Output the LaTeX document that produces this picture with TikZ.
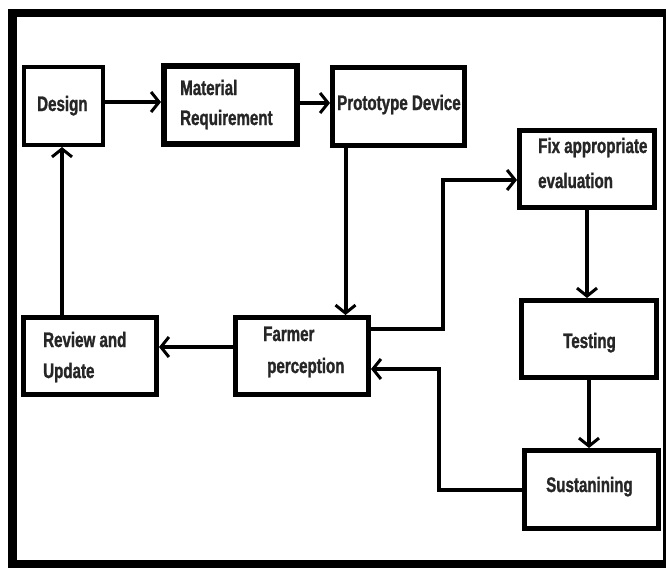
\documentclass[tikz,border=0pt]{standalone}
\usepackage{fontspec}
\newfontfamily\lbl{Liberation Sans}[FakeStretch=0.72,FakeBold=1.2]
\usetikzlibrary{arrows.meta}
\begin{document}
\begin{tikzpicture}[x=1pt,y=-1pt,
  box/.style={draw=black,line width=5pt,rectangle,inner sep=0pt,fill=white},
  lab/.style={anchor=base west,inner sep=0pt,font=\lbl\bfseries\fontsize{21}{21}\selectfont,text=black!85},
  conn/.style={draw=black,line width=4pt,-{Straight Barb[length=8pt,width=20pt,line width=3pt]}},
  wire/.style={draw=black,line width=4pt}]
\useasboundingbox (0,0) rectangle (667,568);
\fill[white] (0,0) rectangle (667,568);
% frame
\fill[black] (8,9) rectangle (17,568);
\fill[black] (8,9) rectangle (666,17);
\fill[black] (663,9) rectangle (666,568);
\fill[black] (8,560) rectangle (666,568);
% boxes
\node[box,line width=4pt,minimum width=79pt,minimum height=78pt] (design) at (63.5,106) {};
\node[box,line width=6pt,minimum width=133pt,minimum height=78pt] (material) at (230.5,105) {};
\node[box,minimum width=132pt,minimum height=78pt] (prototype) at (398.5,106.5) {};
\node[box,minimum width=135pt,minimum height=77pt] (fix) at (587,169) {};
\node[box,minimum width=135pt,minimum height=77pt] (testing) at (589,339) {};
\node[box,minimum width=134pt,minimum height=78pt] (sustaining) at (591.5,489.5) {};
\node[box,minimum width=133pt,minimum height=77pt] (review) at (90,356) {};
\node[box,minimum width=133pt,minimum height=77pt] (farmer) at (302,356) {};
% labels
\node[lab] (t-design) at (37,111) {Design};
\node[lab] (t-mat1) at (180,95) {Material};
\node[lab] (t-mat2) at (180,125) {Requirement};
\node[lab] (t-proto) at (337,110) {Prototype Device};
\node[lab] (t-fix1) at (538,153) {Fix appropriate};
\node[lab] (t-fix2) at (538,188) {evaluation};
\node[lab] (t-test) at (563,348) {Testing};
\node[lab] (t-sust) at (546,492) {Sustanining};
\node[lab] (t-rev1) at (43,347) {Review and};
\node[lab] (t-rev2) at (43,378) {Update};
\node[lab] (t-farm1) at (263,341) {Farmer};
\node[lab] (t-farm2) at (267,373) {perception};
% junctions
\coordinate (j1) at (443,180);
\coordinate (j2) at (439,369);
% connectors
\draw[conn] ([yshift=4pt]design.east) -- ([yshift=4pt]design.east -| material.west);
\draw[conn] ([yshift=2pt]material.east) -- ([yshift=2pt]material.east -| prototype.west);
\draw[conn] ([xshift=-53pt]prototype.south) -- ([xshift=-53pt]prototype.south |- farmer.north);
\draw[conn] ([yshift=27pt]farmer.east) -| (j1) -- (j1 -| fix.west);
\draw[conn] (fix.south) -- (fix.south |- testing.north);
\draw[conn] (testing.south) -- (testing.south |- sustaining.north);
\draw[conn] (sustaining.west) -| (j2) -- (j2 -| farmer.east);
\draw[conn] ([yshift=9pt]farmer.west) -- ([yshift=9pt]farmer.west -| review.east);
\draw[conn] ([xshift=-28pt]review.north) -- ([xshift=-28pt]review.north |- design.south);
\end{tikzpicture}
\end{document}
